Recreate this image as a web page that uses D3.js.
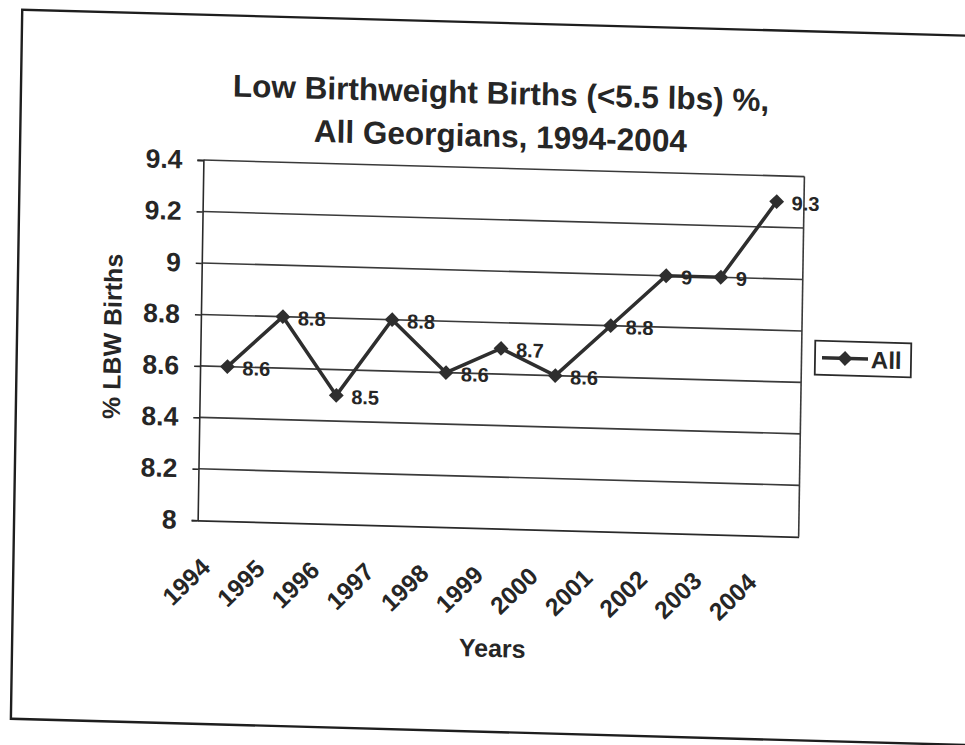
<!DOCTYPE html>
<html>
<head>
<meta charset="utf-8">
<script src="https://cdn.jsdelivr.net/npm/d3@7"></script>
<style>
  html, body { margin: 0; padding: 0; background: #fff; }
  svg { display: block; }
  text { font-family: "Liberation Sans", Arial, Helvetica, sans-serif; font-weight: bold; fill: #262626; }
</style>
</head>
<body>
<script>
// ---- data ----
const years = ["1994", "1995", "1996", "1997", "1998", "1999", "2000", "2001", "2002", "2003", "2004"];
const values = [8.6, 8.8, 8.5, 8.8, 8.6, 8.7, 8.6, 8.8, 9.0, 9.0, 9.3];
const dataLabels = ["8.6", "8.8", "8.5", "8.8", "8.6", "8.7", "8.6", "8.8", "9", "9", "9.3"];
const yTicks = [8, 8.2, 8.4, 8.6, 8.8, 9, 9.2, 9.4];
const yTickLabels = ["8", "8.2", "8.4", "8.6", "8.8", "9", "9.2", "9.4"];
const titleLines = ["Low Birthweight Births (<5.5 lbs) %,", "All Georgians, 1994-2004"];
const yTitle = "% LBW Births";
const xTitle = "Years";
const seriesName = "All";

// ---- layout ----
const W = 965, H = 745;
const plot = { left: 200.5, right: 801.5, top: 168.3, bottom: 528.5 };
const ink = "#262626";

const svg = d3.select("body").append("svg").attr("width", W).attr("height", H);
svg.append("rect").attr("width", W).attr("height", H).attr("fill", "#fff");

// the scanned page is slightly skewed; reproduce it with one transform
const g = svg.append("g").attr("transform", "matrix(1,0.0275,-0.016,1,5.6,-13.75)");

// outer chart border
g.append("rect")
  .attr("x", 17).attr("y", 23).attr("width", 1010).attr("height", 709)
  .attr("fill", "none").attr("stroke", "#1e1e1e").attr("stroke-width", 2.4);

// title
g.append("text")
  .attr("text-anchor", "middle")
  .style("font-size", "31.5px")
  .selectAll("tspan").data(titleLines).join("tspan")
  .attr("x", 497)
  .attr("y", (d, i) => 104 + i * 43)
  .text(d => d);

// scales
const x = d3.scaleBand().domain(years).range([plot.left, plot.right]).padding(0);
const y = d3.scaleLinear().domain([8, 9.4]).range([plot.bottom, plot.top]);

// gridlines
g.append("g").selectAll("line").data(yTicks.filter(v => v > 8)).join("line")
  .attr("x1", plot.left).attr("x2", plot.right)
  .attr("y1", d => y(d)).attr("y2", d => y(d))
  .attr("stroke", "#3a3a3a").attr("stroke-width", 1.6);

// plot area right edge
g.append("line")
  .attr("x1", plot.right).attr("x2", plot.right)
  .attr("y1", plot.top).attr("y2", plot.bottom)
  .attr("stroke", "#3a3a3a").attr("stroke-width", 1.6);

// y axis
const yAxis = g.append("g").attr("transform", `translate(${plot.left},0)`)
  .call(d3.axisLeft(y).tickValues(yTicks).tickFormat((d, i) => yTickLabels[i]).tickSize(6).tickPadding(15));
yAxis.selectAll("path, line").attr("stroke", "#2a2a2a").attr("stroke-width", 1.6);
yAxis.selectAll("text").style("font-size", "26.5px").attr("fill", ink)
  .attr("font-family", null).attr("font-size", null);

// x axis
const xAxis = g.append("g").attr("transform", `translate(0,${plot.bottom})`)
  .call(d3.axisBottom(x).tickSize(0).tickPadding(0));
xAxis.select(".domain").attr("stroke", "#2a2a2a").attr("stroke-width", 1.8);
xAxis.selectAll("text")
  .attr("font-family", null).attr("font-size", null)
  .style("font-size", "24.5px").attr("fill", ink)
  .attr("text-anchor", "end")
  .attr("x", 0).attr("y", 0).attr("dy", 0)
  .attr("transform", "translate(-12.5,48.5) rotate(-45)");

// axis titles
g.append("text")
  .attr("transform", "translate(121,347) rotate(-90)")
  .attr("text-anchor", "middle")
  .style("font-size", "25px")
  .text(yTitle);

g.append("text")
  .attr("x", 497).attr("y", 657)
  .attr("text-anchor", "middle")
  .style("font-size", "25px")
  .text(xTitle);

// series line
const cx = (d, i) => x(years[i]) + x.bandwidth() / 2;
const line = d3.line().x(cx).y(d => y(d));
g.append("path").datum(values)
  .attr("d", line)
  .attr("fill", "none").attr("stroke", "#2e2e2e").attr("stroke-width", 3.5)
  .attr("stroke-linejoin", "miter");

// markers
const diamond = d3.symbol().type(d3.symbolSquare).size(110);
g.append("g").selectAll("path").data(values).join("path")
  .attr("d", diamond)
  .attr("transform", (d, i) => `translate(${cx(d, i)},${y(d)}) rotate(45)`)
  .attr("fill", "#2e2e2e");

// data labels
g.append("g").selectAll("text").data(values).join("text")
  .attr("x", (d, i) => cx(d, i) + 15)
  .attr("y", d => y(d) + 1)
  .attr("dy", "0.36em")
  .style("font-size", "20px")
  .attr("fill", "#333")
  .text((d, i) => dataLabels[i]);

// legend
const leg = g.append("g");
leg.append("rect")
  .attr("x", 815).attr("y", 332).attr("width", 96).attr("height", 34)
  .attr("fill", "#fff").attr("stroke", "#2a2a2a").attr("stroke-width", 1.8);
leg.append("line")
  .attr("x1", 822).attr("x2", 868).attr("y1", 349).attr("y2", 349)
  .attr("stroke", "#2e2e2e").attr("stroke-width", 3.5);
leg.append("path")
  .attr("d", diamond)
  .attr("transform", "translate(845,349) rotate(45)")
  .attr("fill", "#2e2e2e");
leg.append("text")
  .attr("x", 871).attr("y", 358)
  .style("font-size", "24px")
  .text(seriesName);
</script>
</body>
</html>
